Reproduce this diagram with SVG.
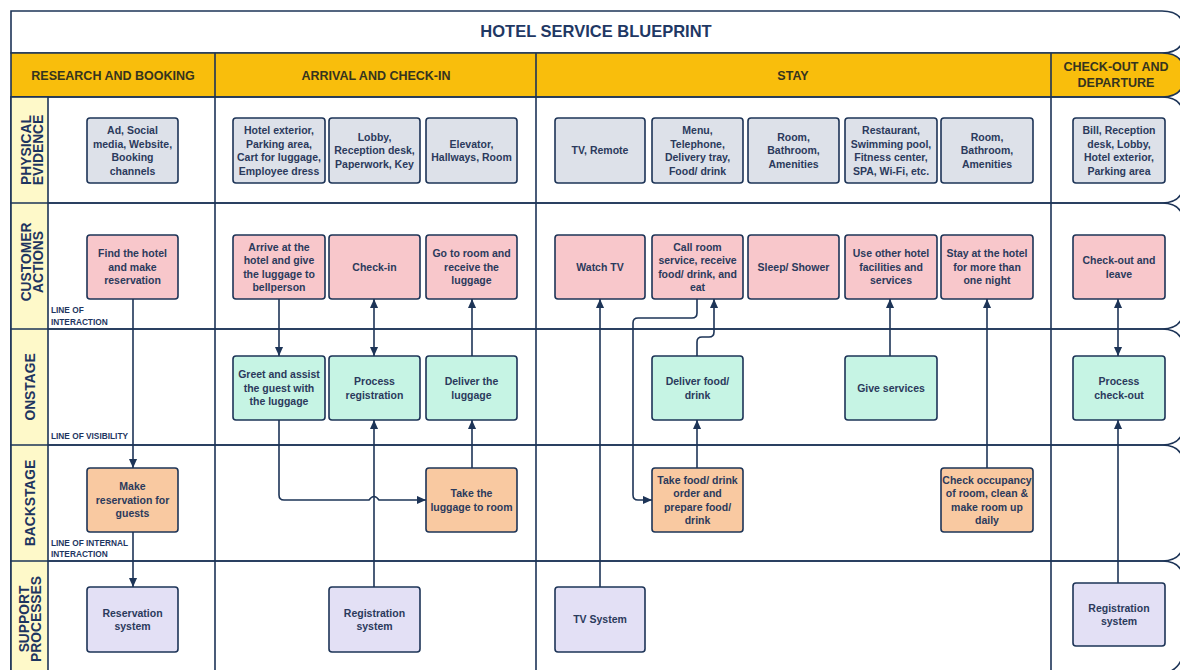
<svg xmlns="http://www.w3.org/2000/svg" width="1180" height="670" viewBox="0 0 1180 670">
<defs>
<marker id="ah" viewBox="0 0 10 10" refX="10" refY="5" markerWidth="9" markerHeight="9" markerUnits="userSpaceOnUse" orient="auto-start-reverse"><path d="M0,0.5 L10,5 L0,9.5 z" fill="#1d3457"/></marker>
</defs>
<style>
.ln{fill:none;stroke:#1d3457;stroke-width:1.6}
.nd{stroke:#1d3457;stroke-width:1.6}
.pe{fill:#dde1e9}.ca{fill:#f8c7cb}.on{fill:#c6f4e4}.bs{fill:#f9c9a1}.sp{fill:#e3e0f5}
.t{font-family:"Liberation Sans",Arial,sans-serif;font-weight:700;font-size:10.5px;fill:#2b3a5c;text-anchor:middle}
.ph{font-family:"Liberation Sans",Arial,sans-serif;font-weight:700;font-size:12.5px;fill:#35341f;text-anchor:middle}
.lane{font-family:"Liberation Sans",Arial,sans-serif;font-weight:700;font-size:13.8px;fill:#1e3560;text-anchor:middle}
.small{font-family:"Liberation Sans",Arial,sans-serif;font-weight:700;font-size:8.3px;fill:#1e3560}
.cn{fill:none;stroke:#1d3457;stroke-width:1.6}
</style>
<rect width="1180" height="670" fill="#ffffff"/>
<g id="frame">
<path class="ln" d="M11,11 H1162 Q1184,11 1184,31 V33 Q1184,53 1162,53 H11 Z"/>
<path class="ln" style="fill:#f9be0c" d="M11,53 H1162 Q1184,53 1184,73 V77 Q1184,97 1162,97 H11 Z"/>
<path class="ln" d="M11,97 H1162 Q1184,97 1184,119 V181 Q1184,203 1162,203 H11 Z"/>
<path class="ln" d="M11,203 H1162 Q1184,203 1184,225 V307 Q1184,329 1162,329 H11 Z"/>
<path class="ln" d="M11,329 H1162 Q1184,329 1184,351 V423 Q1184,445 1162,445 H11 Z"/>
<path class="ln" d="M11,445 H1162 Q1184,445 1184,467 V539 Q1184,561 1162,561 H11 Z"/>
<path class="ln" d="M11,561 H1162 Q1184,561 1184,583 V645 Q1184,675 1152,675 H11 Z"/>
<rect x="11" y="97" width="37" height="580" class="ln" style="fill:#fef9c9"/>
<path class="ln" d="M11,203 H48 M11,329 H48 M11,445 H48 M11,561 H48"/>
<path class="ln" d="M215,53 V670 M536,53 V670 M1051,53 V670"/>
</g>
<g id="titles">
<text x="596" y="37" font-family="Liberation Sans,Arial,sans-serif" font-weight="700" font-size="16.5" fill="#1f3864" text-anchor="middle">HOTEL SERVICE BLUEPRINT</text>
<text class="ph" x="113" y="79.5">RESEARCH AND BOOKING</text>
<text class="ph" x="376" y="79.5">ARRIVAL AND CHECK-IN</text>
<text class="ph" x="793" y="79.5">STAY</text>
<text class="ph" x="1116" y="70.5">CHECK-OUT AND</text>
<text class="ph" x="1116" y="86.5">DEPARTURE</text>
<text class="lane" transform="translate(0,150) rotate(-90)"><tspan x="0" y="30.5">PHYSICAL</tspan><tspan x="0" y="42.5">EVIDENCE</tspan></text>
<text class="lane" transform="translate(0,262) rotate(-90)"><tspan x="0" y="30.5">CUSTOMER</tspan><tspan x="0" y="42.5">ACTIONS</tspan></text>
<text class="lane" transform="translate(0,387) rotate(-90)"><tspan x="0" y="35">ONSTAGE</tspan></text>
<text class="lane" transform="translate(0,503) rotate(-90)"><tspan x="0" y="35">BACKSTAGE</tspan></text>
<text class="lane" transform="translate(0,619) rotate(-90)"><tspan x="0" y="28.5">SUPPORT</tspan><tspan x="0" y="41">PROCESSES</tspan></text>
<text class="small" x="51" y="313">LINE OF</text>
<text class="small" x="51" y="325">INTERACTION</text>
<text class="small" x="51" y="439">LINE OF VISIBILITY</text>
<text class="small" x="51" y="546">LINE OF INTERNAL</text>
<text class="small" x="51" y="557">INTERACTION</text>
</g>
<g id="pe1"><rect class="nd pe" x="87" y="118" width="91" height="65" rx="3"/><text class="t"><tspan x="132.5" y="134">Ad, Social</tspan><tspan x="132.5" y="147.5">media, Website,</tspan><tspan x="132.5" y="161">Booking</tspan><tspan x="132.5" y="174.5">channels</tspan></text></g>
<g id="pe2"><rect class="nd pe" x="233" y="118" width="92" height="65" rx="3"/><text class="t"><tspan x="279" y="134">Hotel exterior,</tspan><tspan x="279" y="147.5">Parking area,</tspan><tspan x="279" y="161">Cart for luggage,</tspan><tspan x="279" y="174.5">Employee dress</tspan></text></g>
<g id="pe3"><rect class="nd pe" x="329" y="118" width="91" height="65" rx="3"/><text class="t"><tspan x="374.5" y="140.8">Lobby,</tspan><tspan x="374.5" y="154.3">Reception desk,</tspan><tspan x="374.5" y="167.8">Paperwork, Key</tspan></text></g>
<g id="pe4"><rect class="nd pe" x="426" y="118" width="91" height="65" rx="3"/><text class="t"><tspan x="471.5" y="147.5">Elevator,</tspan><tspan x="471.5" y="161">Hallways, Room</tspan></text></g>
<g id="pe5"><rect class="nd pe" x="555" y="118" width="90" height="65" rx="3"/><text class="t"><tspan x="600" y="154.3">TV, Remote</tspan></text></g>
<g id="pe6"><rect class="nd pe" x="652" y="118" width="91" height="65" rx="3"/><text class="t"><tspan x="697.5" y="134">Menu,</tspan><tspan x="697.5" y="147.5">Telephone,</tspan><tspan x="697.5" y="161">Delivery tray,</tspan><tspan x="697.5" y="174.5">Food/ drink</tspan></text></g>
<g id="pe7"><rect class="nd pe" x="748" y="118" width="91" height="65" rx="3"/><text class="t"><tspan x="793.5" y="140.8">Room,</tspan><tspan x="793.5" y="154.3">Bathroom,</tspan><tspan x="793.5" y="167.8">Amenities</tspan></text></g>
<g id="pe8"><rect class="nd pe" x="845" y="118" width="92" height="65" rx="3"/><text class="t"><tspan x="891" y="134">Restaurant,</tspan><tspan x="891" y="147.5">Swimming pool,</tspan><tspan x="891" y="161">Fitness center,</tspan><tspan x="891" y="174.5">SPA, Wi-Fi, etc.</tspan></text></g>
<g id="pe9"><rect class="nd pe" x="941" y="118" width="92" height="65" rx="3"/><text class="t"><tspan x="987" y="140.8">Room,</tspan><tspan x="987" y="154.3">Bathroom,</tspan><tspan x="987" y="167.8">Amenities</tspan></text></g>
<g id="pe10"><rect class="nd pe" x="1073" y="118" width="92" height="65" rx="3"/><text class="t"><tspan x="1119" y="134">Bill, Reception</tspan><tspan x="1119" y="147.5">desk, Lobby,</tspan><tspan x="1119" y="161">Hotel exterior,</tspan><tspan x="1119" y="174.5">Parking area</tspan></text></g>
<g id="ca1"><rect class="nd ca" x="87" y="235" width="91" height="64" rx="3"/><text class="t"><tspan x="132.5" y="257.3">Find the hotel</tspan><tspan x="132.5" y="270.8">and make</tspan><tspan x="132.5" y="284.3">reservation</tspan></text></g>
<g id="ca2"><rect class="nd ca" x="233" y="235" width="92" height="64" rx="3"/><text class="t"><tspan x="279" y="250.5">Arrive at the</tspan><tspan x="279" y="264">hotel and give</tspan><tspan x="279" y="277.5">the luggage to</tspan><tspan x="279" y="291">bellperson</tspan></text></g>
<g id="ca3"><rect class="nd ca" x="329" y="235" width="91" height="64" rx="3"/><text class="t"><tspan x="374.5" y="270.8">Check-in</tspan></text></g>
<g id="ca4"><rect class="nd ca" x="426" y="235" width="91" height="64" rx="3"/><text class="t"><tspan x="471.5" y="257.3">Go to room and</tspan><tspan x="471.5" y="270.8">receive the</tspan><tspan x="471.5" y="284.3">luggage</tspan></text></g>
<g id="ca5"><rect class="nd ca" x="555" y="235" width="90" height="64" rx="3"/><text class="t"><tspan x="600" y="270.8">Watch TV</tspan></text></g>
<g id="ca6"><rect class="nd ca" x="652" y="235" width="91" height="64" rx="3"/><text class="t"><tspan x="697.5" y="250.5">Call room</tspan><tspan x="697.5" y="264">service, receive</tspan><tspan x="697.5" y="277.5">food/ drink, and</tspan><tspan x="697.5" y="291">eat</tspan></text></g>
<g id="ca7"><rect class="nd ca" x="748" y="235" width="91" height="64" rx="3"/><text class="t"><tspan x="793.5" y="270.8">Sleep/ Shower</tspan></text></g>
<g id="ca8"><rect class="nd ca" x="845" y="235" width="92" height="64" rx="3"/><text class="t"><tspan x="891" y="257.3">Use other hotel</tspan><tspan x="891" y="270.8">facilities and</tspan><tspan x="891" y="284.3">services</tspan></text></g>
<g id="ca9"><rect class="nd ca" x="941" y="235" width="92" height="64" rx="3"/><text class="t"><tspan x="987" y="257.3">Stay at the hotel</tspan><tspan x="987" y="270.8">for more than</tspan><tspan x="987" y="284.3">one night</tspan></text></g>
<g id="ca10"><rect class="nd ca" x="1073" y="235" width="92" height="64" rx="3"/><text class="t"><tspan x="1119" y="264">Check-out and</tspan><tspan x="1119" y="277.5">leave</tspan></text></g>
<g id="on1"><rect class="nd on" x="233" y="356" width="92" height="64" rx="3"/><text class="t"><tspan x="279" y="378.3">Greet and assist</tspan><tspan x="279" y="391.8">the guest with</tspan><tspan x="279" y="405.3">the luggage</tspan></text></g>
<g id="on2"><rect class="nd on" x="329" y="356" width="91" height="64" rx="3"/><text class="t"><tspan x="374.5" y="385">Process</tspan><tspan x="374.5" y="398.5">registration</tspan></text></g>
<g id="on3"><rect class="nd on" x="426" y="356" width="91" height="64" rx="3"/><text class="t"><tspan x="471.5" y="385">Deliver the</tspan><tspan x="471.5" y="398.5">luggage</tspan></text></g>
<g id="on4"><rect class="nd on" x="652" y="356" width="91" height="64" rx="3"/><text class="t"><tspan x="697.5" y="385">Deliver food/</tspan><tspan x="697.5" y="398.5">drink</tspan></text></g>
<g id="on5"><rect class="nd on" x="845" y="356" width="92" height="64" rx="3"/><text class="t"><tspan x="891" y="391.8">Give services</tspan></text></g>
<g id="on6"><rect class="nd on" x="1073" y="356" width="92" height="64" rx="3"/><text class="t"><tspan x="1119" y="385">Process</tspan><tspan x="1119" y="398.5">check-out</tspan></text></g>
<g id="bs1"><rect class="nd bs" x="87" y="468" width="91" height="64" rx="3"/><text class="t"><tspan x="132.5" y="490.3">Make</tspan><tspan x="132.5" y="503.8">reservation for</tspan><tspan x="132.5" y="517.3">guests</tspan></text></g>
<g id="bs2"><rect class="nd bs" x="426" y="468" width="91" height="64" rx="3"/><text class="t"><tspan x="471.5" y="497">Take the</tspan><tspan x="471.5" y="510.5">luggage to room</tspan></text></g>
<g id="bs3"><rect class="nd bs" x="652" y="468" width="91" height="64" rx="3"/><text class="t"><tspan x="697.5" y="483.5">Take food/ drink</tspan><tspan x="697.5" y="497">order and</tspan><tspan x="697.5" y="510.5">prepare food/</tspan><tspan x="697.5" y="524">drink</tspan></text></g>
<g id="bs4"><rect class="nd bs" x="941" y="468" width="92" height="64" rx="3"/><text class="t"><tspan x="987" y="483.5">Check occupancy</tspan><tspan x="987" y="497">of room, clean &amp;</tspan><tspan x="987" y="510.5">make room up</tspan><tspan x="987" y="524">daily</tspan></text></g>
<g id="sp1"><rect class="nd sp" x="87" y="587" width="91" height="65" rx="3"/><text class="t"><tspan x="132.5" y="616.5">Reservation</tspan><tspan x="132.5" y="630">system</tspan></text></g>
<g id="sp2"><rect class="nd sp" x="329" y="587" width="91" height="65" rx="3"/><text class="t"><tspan x="374.5" y="616.5">Registration</tspan><tspan x="374.5" y="630">system</tspan></text></g>
<g id="sp3"><rect class="nd sp" x="555" y="587" width="90" height="65" rx="3"/><text class="t"><tspan x="600" y="623.3">TV System</tspan></text></g>
<g id="sp4"><rect class="nd sp" x="1073" y="583" width="92" height="63" rx="3"/><text class="t"><tspan x="1119" y="611.5">Registration</tspan><tspan x="1119" y="625">system</tspan></text></g>
<g id="connectors">
<path class="cn" marker-end="url(#ah)" d="M133,299 V468"/>
<path class="cn" marker-end="url(#ah)" d="M133,532 V587"/>
<path class="cn" marker-end="url(#ah)" d="M279,299 V356"/>
<path class="cn" marker-end="url(#ah)" d="M279,420 V495 Q279,500 284,500 H369 Q374,493 379,500 H426"/>
<path class="cn" marker-start="url(#ah)" marker-end="url(#ah)" d="M374,299 V356"/>
<path class="cn" marker-end="url(#ah)" d="M374,587 V420"/>
<path class="cn" marker-end="url(#ah)" d="M472,468 V420"/>
<path class="cn" marker-end="url(#ah)" d="M472,356 V299"/>
<path class="cn" marker-end="url(#ah)" d="M600,587 V299"/>
<path class="cn" marker-end="url(#ah)" d="M697,299 V313 Q697,318 692,318 H638 Q633,318 633,323 V495 Q633,500 638,500 H652"/>
<path class="cn" marker-end="url(#ah)" d="M697,468 V420"/>
<path class="cn" marker-end="url(#ah)" d="M697,356 V342 Q697,337 702,337 H709 Q714,337 714,332 V299"/>
<path class="cn" marker-end="url(#ah)" d="M890,356 V299"/>
<path class="cn" marker-end="url(#ah)" d="M987,468 V299"/>
<path class="cn" marker-start="url(#ah)" marker-end="url(#ah)" d="M1118,299 V356"/>
<path class="cn" marker-end="url(#ah)" d="M1118,583 V420"/>
</g>
</svg>
